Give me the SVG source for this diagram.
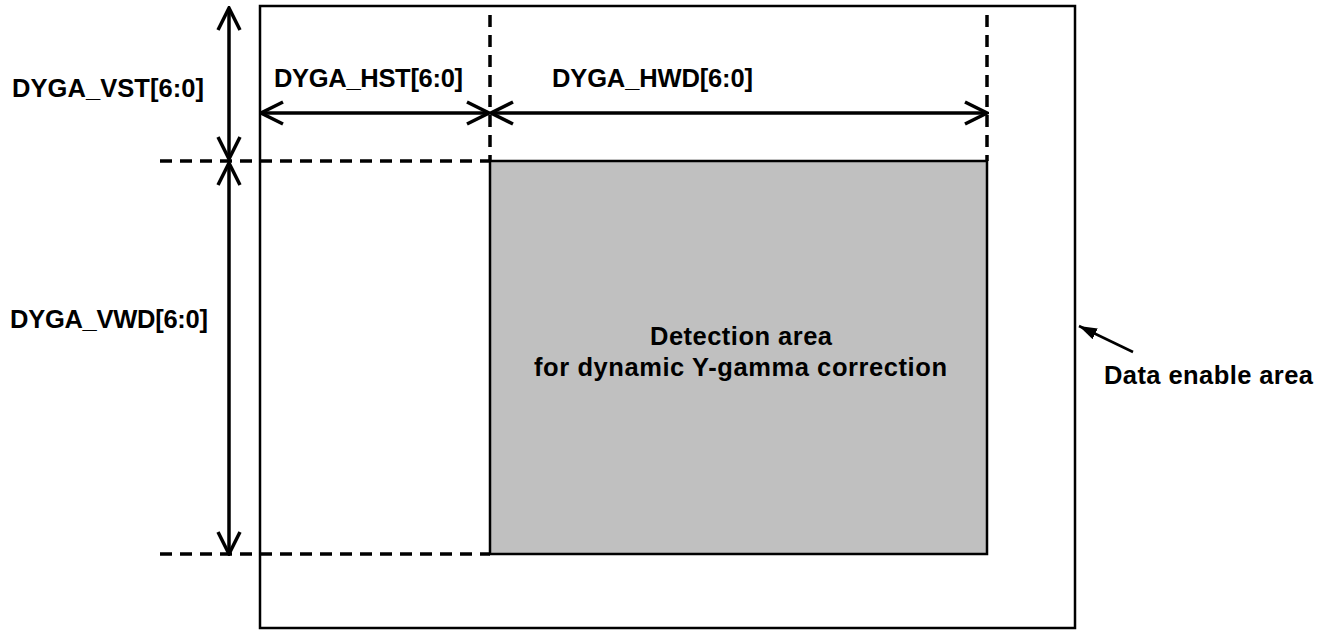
<svg xmlns="http://www.w3.org/2000/svg" width="1333" height="630" viewBox="0 0 1333 630">
<defs>
<style>
.t{font-family:"Liberation Sans",Arial,sans-serif;font-weight:bold;font-size:25.5px;fill:#000}
.ln{stroke:#000;stroke-width:3.5;fill:none}
.ds{stroke:#000;stroke-width:3.5;fill:none;stroke-dasharray:12 8}
</style>
<marker id="oa" viewBox="0 0 26 26" refX="24" refY="13" markerWidth="26" markerHeight="26" markerUnits="userSpaceOnUse" orient="auto-start-reverse">
<path d="M2,2 L24,13 L2,24" fill="none" stroke="#000" stroke-width="3.5"/>
</marker>
<marker id="fa" viewBox="0 0 18 12" refX="18" refY="6" markerWidth="18" markerHeight="12" markerUnits="userSpaceOnUse" orient="auto">
<path d="M0,0 L18,6 L0,12 Z" fill="#000"/>
</marker>
</defs>
<rect width="1333" height="630" fill="#fff"/>
<g id="data-enable-area">
<rect x="260" y="6" width="815" height="622" fill="none" stroke="#000" stroke-width="2.5"/>
</g>
<g id="detection-area">
<rect x="490" y="161" width="497" height="393" fill="#c0c0c0" stroke="#000" stroke-width="2.5"/>
<text class="t" x="741" y="345" text-anchor="middle" textLength="182">Detection area</text>
<text class="t" x="740.5" y="376" text-anchor="middle" textLength="413">for dynamic Y-gamma correction</text>
</g>
<g id="guides">
<line class="ds" x1="160" y1="161" x2="490" y2="161"/>
<line class="ds" x1="160" y1="554" x2="490" y2="554"/>
<line class="ds" x1="490" y1="15" x2="490" y2="161"/>
<line class="ds" x1="987" y1="15" x2="987" y2="161"/>
</g>
<g id="connectors">
<line class="ln" x1="229" y1="8" x2="229" y2="159" marker-start="url(#oa)" marker-end="url(#oa)"/>
<line class="ln" x1="229" y1="163" x2="229" y2="554" marker-start="url(#oa)" marker-end="url(#oa)"/>
<line class="ln" x1="261" y1="113" x2="489" y2="113" marker-start="url(#oa)" marker-end="url(#oa)"/>
<line class="ln" x1="491" y1="113" x2="987" y2="113" marker-start="url(#oa)" marker-end="url(#oa)"/>
<line x1="1133" y1="352" x2="1079" y2="326" stroke="#000" stroke-width="2.5" marker-end="url(#fa)"/>
</g>
<g id="labels">
<text class="t" x="12" y="97" textLength="192">DYGA_VST[6:0]</text>
<text class="t" x="274" y="87" textLength="189">DYGA_HST[6:0]</text>
<text class="t" x="552" y="87" textLength="201">DYGA_HWD[6:0]</text>
<text class="t" x="10" y="328" textLength="198">DYGA_VWD[6:0]</text>
<text class="t" x="1104" y="384" textLength="209">Data enable area</text>
</g>
</svg>
